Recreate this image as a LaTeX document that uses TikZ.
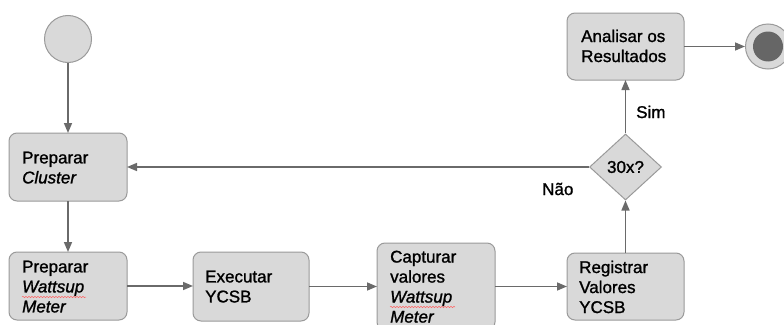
\documentclass[tikz,border=0pt]{standalone}
\usepackage{fontspec}
\setmainfont{Liberation Sans}[FakeBold=1.2]
\usetikzlibrary{arrows.meta,shapes.geometric,decorations.pathmorphing}
\definecolor{boxfill}{HTML}{D9D9D9}
\definecolor{boxline}{HTML}{9A9A9A}
\definecolor{arrcol}{HTML}{6A6A6A}
\definecolor{darkdot}{HTML}{666666}
\tikzset{
  actbox/.style={draw=boxline, fill=boxfill, rounded corners=8pt, line width=1pt, inner sep=0pt, outer sep=0pt},
  txt/.style={align=left, inner sep=0pt, font=\fontsize{17}{20}\selectfont\addfontfeature{FakeBold=1.2}},
  arr/.style={draw=arrcol, line width=1.5pt, -{Triangle[length=10pt,width=8pt]}},
  squig/.style={draw=red!60, line width=0.5pt, decorate, decoration={snake, amplitude=0.7pt, segment length=3pt}}
}
\begin{document}
\begin{tikzpicture}[x=1pt,y=-1pt]
\path[use as bounding box] (0,0) rectangle (784,324);
\clip (0,0) rectangle (784,324);
% start
\node[circle, draw=boxline, fill=boxfill, line width=1pt, minimum size=47pt, inner sep=0pt] (start) at (68,39) {};
% boxes
\node[actbox, minimum width=118pt, minimum height=68pt] (pc) at (68,167) {};
\node[actbox, minimum width=118pt, minimum height=68pt] (pw) at (68,286) {};
\node[actbox, minimum width=116pt, minimum height=69pt] (ex) at (251,286.5) {};
\node[actbox, minimum width=118pt, minimum height=87pt] (cv) at (436,286.5) {};
\node[actbox, minimum width=117pt, minimum height=67pt] (rv) at (625.5,286.5) {};
\node[actbox, minimum width=117pt, minimum height=67pt] (an) at (625.5,46.5) {};
\node[diamond, draw=boxline, fill=boxfill, line width=1pt, minimum width=72pt, minimum height=66pt, inner sep=0pt, aspect=1.09] (dec) at (625.5,167) {};
% end
\node[circle, draw=boxline, fill=boxfill, line width=1pt, minimum size=45pt, inner sep=0pt] (end) at (768,46.5) {};
\node[circle, fill=darkdot, minimum size=30pt, inner sep=0pt] (endin) at (end.center) {};
% texts
\node[txt, anchor=north west] (tpc) at (22,151.5) {Preparar\\\textit{Cluster}};
\node[txt, anchor=north west] (tpw) at (22,260.5) {Preparar\\\textit{Wattsup}\\\textit{Meter}};
\node[txt, anchor=north west] (tex) at (205,270.5) {Executar\\YCSB};
\node[txt, anchor=north west] (tcv) at (390,250.5) {Capturar\\valores\\\textit{Wattsup}\\\textit{Meter}};
\node[txt, anchor=north west] (trv) at (579,260.5) {Registrar\\Valores\\YCSB};
\node[txt, anchor=north west] (tan) at (581,29.5) {Analisar os\\Resultados};
\node[txt] (tdec) at (dec.center) {30x?};
\node[txt, anchor=base west] (tsim) at (636,118) {Sim};
\node[txt, anchor=base west] (tnao) at (542,195) {Não};
% spell-check squiggles
\draw[squig] (22,297) -- (86,297);
\draw[squig] (390,307) -- (455,307);
% connectors
\draw[arr] (start) -- (pc);
\draw[arr] (pc) -- (pw);
\draw[arr] (pw.east) -- (pw.east -| ex.west);
\draw[arr] (ex.east) -- (ex.east -| cv.west);
\draw[arr] (cv.east |- rv.west) -- (rv.west);
\draw[arr] (rv) -- (dec);
\draw[arr] (dec) -- (an);
\draw[arr] (dec.west) -- (dec.west -| pc.east);
\draw[arr] (an) -- (end);
\end{tikzpicture}
\end{document}
